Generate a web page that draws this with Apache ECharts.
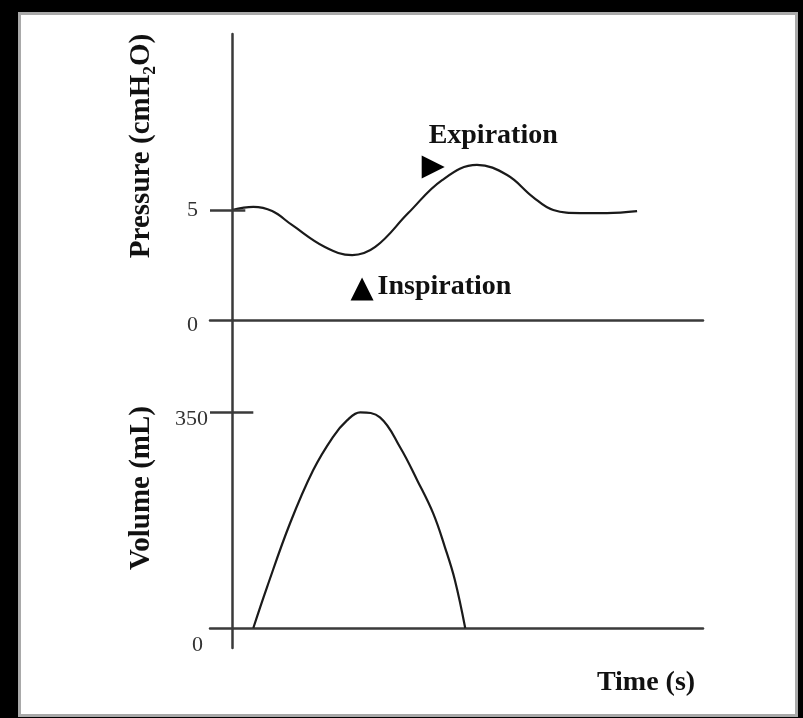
<!DOCTYPE html>
<html>
<head>
<meta charset="utf-8">
<script src="https://cdn.jsdelivr.net/npm/echarts@6.0.0/dist/echarts.min.js"></script>
<style>
  html, body { margin: 0; padding: 0; background: #000; }
  #panel { position: absolute; left: 18px; top: 12px; width: 774px; height: 699px; background: #fff; border: 3px solid #a9a9a9; }
  #chart { position: absolute; left: 0; top: 0; width: 803px; height: 718px; }
</style>
</head>
<body>
<div id="panel"></div>
<div id="chart"></div>
<script>
// pressure trace (time in s, pressure in cmH2O)
const pressureTime = [0, 0.45, 0.85, 1.27, 1.97, 2.55, 3.04, 3.74, 4.46, 5.20, 5.84, 6.39, 6.82, 7.39, 7.96, 8.60];
const pressureValue = [5, 5.14, 4.95, 4.32, 3.32, 2.95, 3.32, 4.86, 6.36, 7.05, 6.59, 5.59, 5.0, 4.86, 4.86, 4.95];

// volume trace (mL)
const volumeTime = [0.45, 0.74, 1.23, 1.72, 2.14, 2.44, 2.72, 3.14, 3.57, 3.93, 4.27, 4.52, 4.73, 4.95];
const volumeValue = [0, 66, 170, 256, 310, 337, 350, 342, 293, 240, 186, 131, 78, 0];

const pressureTicks = [0, 5];
const volumeTicks = [0, 350];

// arrow markers on the pressure panel
const markerTime = [4.27, 2.76];
const markerValue = [6.95, 1.41];
const markerLabel = ['Expiration', 'Inspiration'];
const markerRotate = [-90, 0];

const INK = '#1a1a1a';
const AXIS = '#3a3a3a';
const SERIF = '"Liberation Serif", "Times New Roman", serif';

const chart = echarts.init(document.getElementById('chart'));

const tickFont = { fontFamily: SERIF, fontSize: 22, color: '#333' };

const markerData = markerTime.map((t, i) => ({
  value: [t, markerValue[i]],
  symbolRotate: markerRotate[i],
  label: i === 0
    ? { show: true, position: 'top', distance: 6, offset: [60, 0], formatter: markerLabel[i] }
    : { show: true, position: 'right', distance: 4, offset: [0, -2], formatter: markerLabel[i] }
}));

chart.setOption({
  animation: false,
  grid: [
    { left: 210, width: 493, top: 34, height: 286 },
    { left: 210, width: 493, top: 320, height: 328 }
  ],
  xAxis: [0, 1].map(g => ({
    type: 'value', gridIndex: g, min: -0.47, max: 10,
    splitLine: { show: false },
    axisTick: { show: false },
    axisLabel: { show: false },
    axisLine: { show: true, onZero: true, lineStyle: { color: AXIS, width: 2.5 } }
  })),
  yAxis: [
    {
      type: 'value', gridIndex: 0, min: 0, max: 13,
      splitLine: { show: false },
      axisTick: { show: false },
      axisLine: { show: true, onZero: true, lineStyle: { color: AXIS, width: 2.5 } },
      axisLabel: {
        customValues: pressureTicks, margin: 12,
        formatter: v => v === 0 ? '{low|0}' : '{n|' + v + '}',
        rich: {
          n: tickFont,
          low: Object.assign({ padding: [10, 0, 0, 0] }, tickFont)
        }
      }
    },
    {
      type: 'value', gridIndex: 1, min: -32.5, max: 500,
      splitLine: { show: false },
      axisTick: { show: false },
      axisLine: { show: true, onZero: true, lineStyle: { color: AXIS, width: 2.5 } },
      axisLabel: {
        customValues: volumeTicks, margin: 2,
        formatter: v => v === 0 ? '{zero|0}' : '{top|' + v + '}',
        rich: {
          top: Object.assign({ padding: [14, 0, 0, 0] }, tickFont),
          zero: Object.assign({ padding: [34, 5, 0, 0] }, tickFont)
        }
      }
    }
  ],
  graphic: [
    { type: 'text', x: 142, y: 146, rotation: Math.PI / 2,
      style: { text: 'Pressure (cmH\u2082O)', font: 'bold 29px ' + SERIF, fill: '#111', align: 'center', verticalAlign: 'middle' } },
    { type: 'text', x: 142, y: 488, rotation: Math.PI / 2,
      style: { text: 'Volume (mL)', font: 'bold 29px ' + SERIF, fill: '#111', align: 'center', verticalAlign: 'middle' } },
    { type: 'text', x: 646, y: 683,
      style: { text: 'Time (s)', font: 'bold 28px ' + SERIF, fill: '#111', align: 'center', verticalAlign: 'middle' } }
  ],
  series: [
    {
      type: 'line', xAxisIndex: 0, yAxisIndex: 0,
      data: pressureTime.map((t, i) => [t, pressureValue[i]]),
      smooth: 0.4, showSymbol: false,
      lineStyle: { color: INK, width: 2.2 },
      markLine: {
        silent: true, symbol: 'none', label: { show: false },
        lineStyle: { color: AXIS, width: 2.5, type: 'solid' },
        data: [[{ coord: [-0.47, 5] }, { coord: [0.28, 5] }]]
      }
    },
    {
      type: 'line', xAxisIndex: 1, yAxisIndex: 1,
      data: volumeTime.map((t, i) => [t, volumeValue[i]]),
      smooth: 0.4, showSymbol: false,
      lineStyle: { color: INK, width: 2.2 },
      markLine: {
        silent: true, symbol: 'none', label: { show: false },
        lineStyle: { color: AXIS, width: 2.5, type: 'solid' },
        data: [[{ coord: [-0.47, 350] }, { coord: [0.45, 350] }]]
      }
    },
    {
      type: 'scatter', xAxisIndex: 0, yAxisIndex: 0,
      symbol: 'triangle', symbolSize: 23,
      itemStyle: { color: '#000', opacity: 1 },
      label: { fontFamily: SERIF, fontWeight: 'bold', fontSize: 28, color: '#111' },
      data: markerData
    }
  ]
});
</script>
</body>
</html>
